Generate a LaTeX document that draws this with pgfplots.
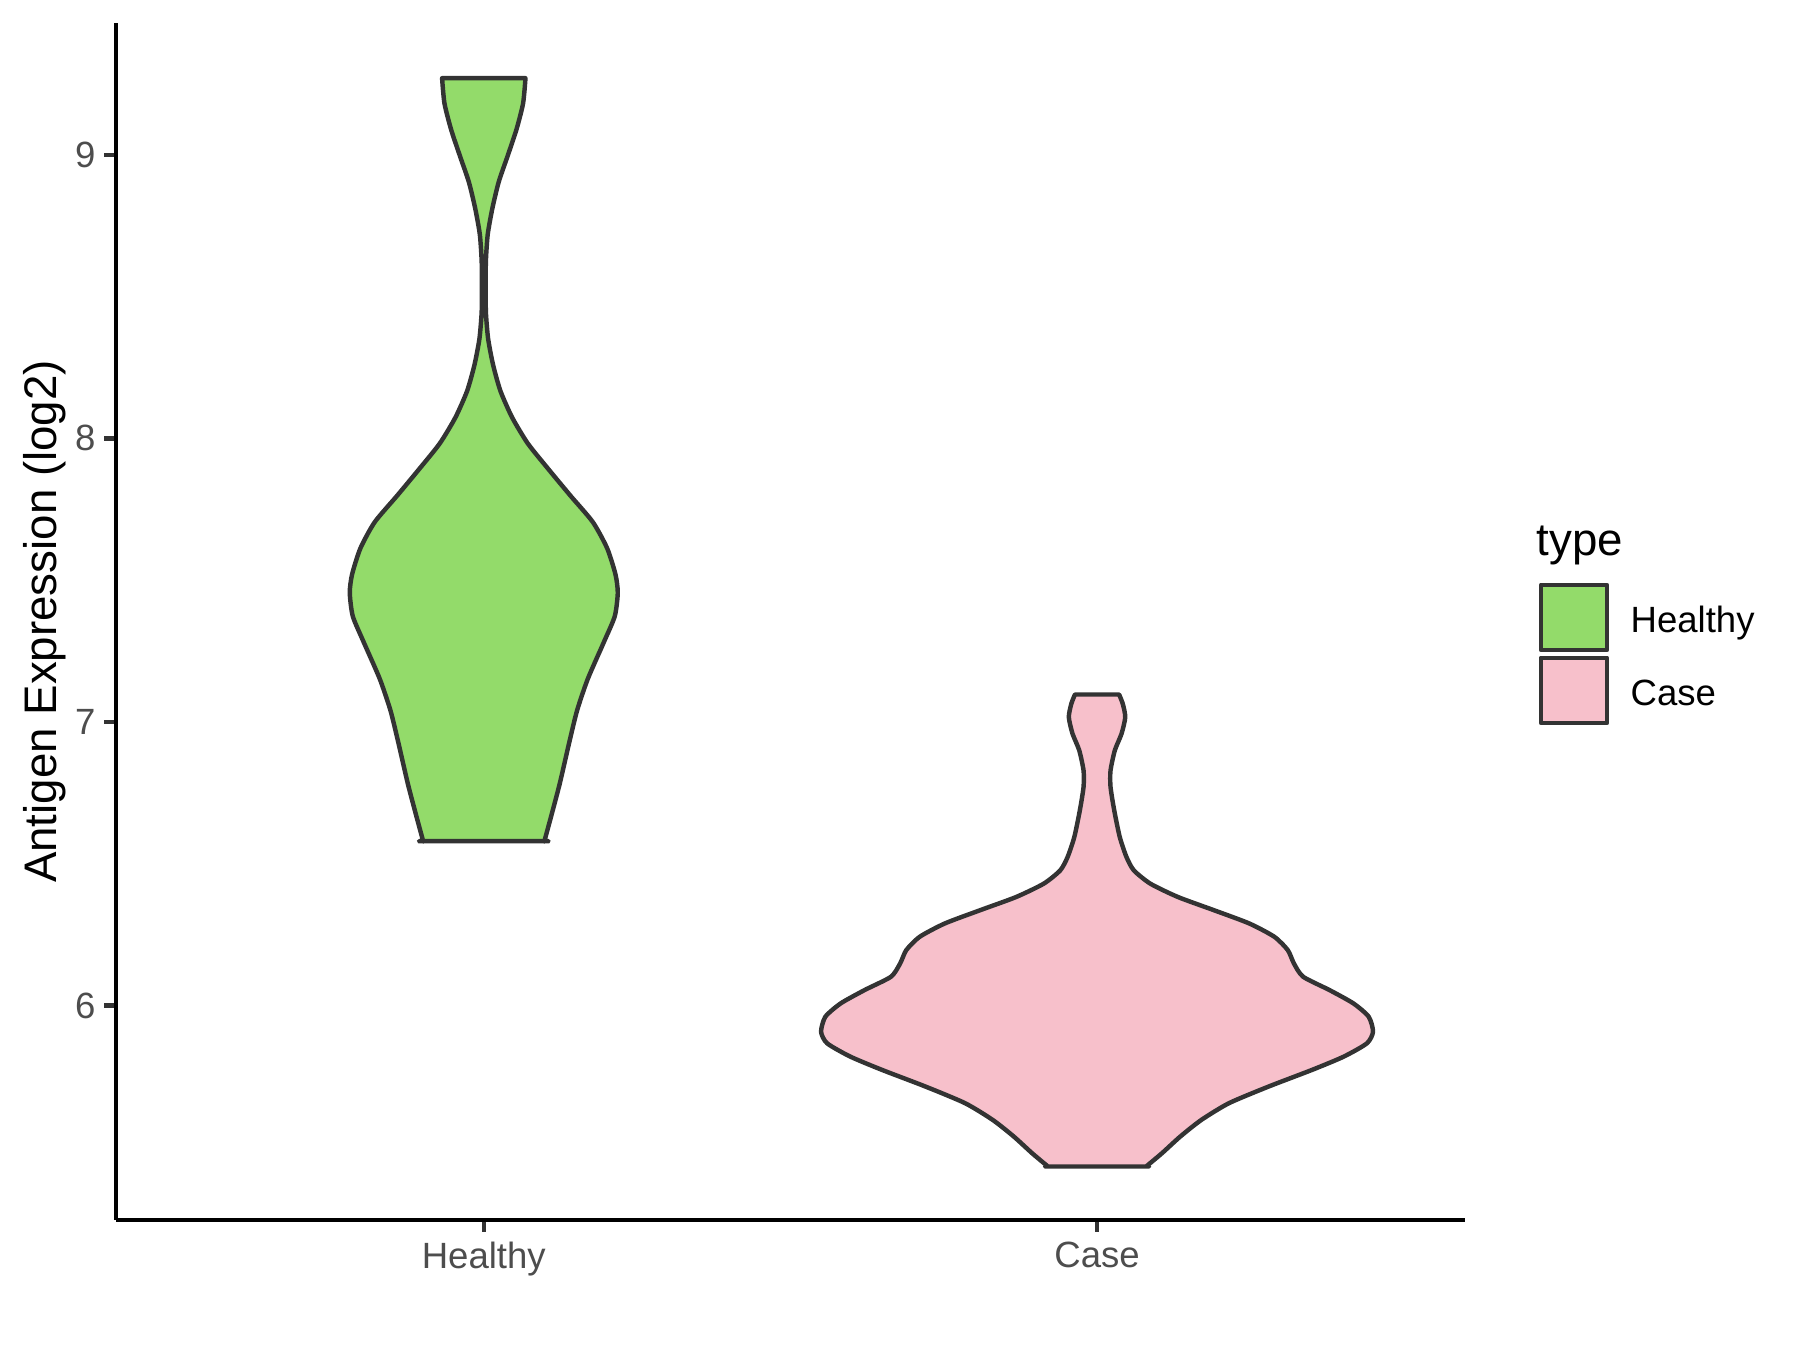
\documentclass[border=0pt]{standalone}
\usepackage{fontspec}
\setmainfont{Liberation Sans}
\usepackage{pgfplots}
\pgfplotsset{compat=1.18}
\definecolor{hfill}{RGB}{147,219,106}
\definecolor{cfill}{RGB}{247,192,203}
\definecolor{vline}{RGB}{51,51,51}
\definecolor{ticklab}{RGB}{77,77,77}
\begin{document}
\begin{tikzpicture}
\path[use as bounding box] (0,0) rectangle (433.6pt,325.2pt);
\begin{axis}[
  at={(27.9pt,31.3pt)}, anchor=south west,
  width=325pt, height=288.4pt, scale only axis,
  xmin=0.4, xmax=2.6, ymin=5.244, ymax=9.465,
  axis lines=left, axis line style={-, line width=1.07pt, black},
  xtick={1,2}, xticklabels={Healthy,Case},
  ytick={6,7,8,9},
  tick align=outside, major tick length=2.75pt,
  tick style={line width=1.07pt, color=vline},
  tick label style={font=\fontsize{8.8}{10}\selectfont, color=ticklab},
  xticklabel style={yshift=1.1pt},
  yticklabel style={xshift=1.4pt},
  /pgf/number format/assume math mode=true,
  ylabel={Antigen Expression (log2)},
  ylabel style={at={(axis description cs:-0.053,0.5)}, anchor=center, font=\fontsize{11}{13}\selectfont},
  legend style={at={(1.054,0.5345)}, anchor=north west, draw=none, fill=none, inner sep=0pt, row sep=0pt,
    font=\fontsize{8.8}{10}\selectfont, nodes={inner sep=0pt, yshift=-0.6pt}},
  legend cell align=left,
  legend image code/.code={\draw[#1] (0pt,-7.25pt) rectangle (15.9pt,8.45pt); \path (21.1pt,-7.65pt) (21.1pt,8.85pt);},
]
\addplot[fill=hfill, draw=vline, line width=1.07pt, line join=round, smooth, tension=0.4] coordinates {
(1.0680,9.270) (1.0641,9.181) (1.0533,9.089) (1.0391,8.997) (1.0245,8.905) (1.0141,8.812) (1.0065,8.720) (1.0035,8.628) (1.0030,8.536) (1.0035,8.443) (1.0071,8.351) (1.0152,8.259) (1.0272,8.167) (1.0462,8.074) (1.0718,7.982) (1.1060,7.890) (1.1413,7.798) (1.1778,7.705) (1.2011,7.613) (1.2147,7.521) (1.2185,7.456) (1.2136,7.373) (1.1957,7.281) (1.1696,7.152) (1.1522,7.041) (1.1397,6.931) (1.1239,6.783) (1.1104,6.672) (1.0995,6.585) (1.0989,6.580) (1.0960,6.580)
(0.9040,6.580) (0.9011,6.580) (0.9005,6.585) (0.8896,6.672) (0.8761,6.783) (0.8603,6.931) (0.8478,7.041) (0.8304,7.152) (0.8043,7.281) (0.7864,7.373) (0.7815,7.456) (0.7853,7.521) (0.7989,7.613) (0.8222,7.705) (0.8587,7.798) (0.8940,7.890) (0.9282,7.982) (0.9538,8.074) (0.9728,8.167) (0.9848,8.259) (0.9929,8.351) (0.9965,8.443) (0.9970,8.536) (0.9965,8.628) (0.9935,8.720) (0.9859,8.812) (0.9755,8.905) (0.9609,8.997) (0.9467,9.089) (0.9359,9.181) (0.9320,9.270)
} -- cycle;
\addlegendentry{Healthy}
\addplot[fill=cfill, draw=vline, line width=1.07pt, line join=round, smooth, tension=0.4] coordinates {
(2.036,7.097) (2.042,7.064) (2.046,7.017) (2.040,6.959) (2.029,6.900) (2.022,6.829) (2.022,6.771) (2.028,6.689) (2.037,6.595) (2.048,6.524) (2.060,6.477) (2.087,6.430) (2.132,6.383) (2.190,6.337) (2.248,6.290) (2.289,6.243) (2.311,6.196) (2.321,6.149) (2.336,6.102) (2.379,6.055) (2.418,6.008) (2.443,5.961) (2.450,5.908) (2.440,5.867) (2.402,5.820) (2.350,5.773) (2.280,5.715) (2.215,5.656) (2.170,5.597) (2.136,5.539) (2.106,5.480) (2.0815,5.4355) (2.080,5.433) (2.077,5.433)
(1.923,5.433) (1.920,5.433) (1.9185,5.4355) (1.894,5.480) (1.864,5.539) (1.830,5.597) (1.785,5.656) (1.720,5.715) (1.650,5.773) (1.598,5.820) (1.560,5.867) (1.550,5.908) (1.557,5.961) (1.582,6.008) (1.621,6.055) (1.664,6.102) (1.679,6.149) (1.689,6.196) (1.711,6.243) (1.752,6.290) (1.810,6.337) (1.868,6.383) (1.913,6.430) (1.940,6.477) (1.952,6.524) (1.963,6.595) (1.972,6.689) (1.978,6.771) (1.978,6.829) (1.971,6.900) (1.960,6.959) (1.954,7.017) (1.958,7.064) (1.964,7.097)
} -- cycle;
\addlegendentry{Case}
\end{axis}
\node[anchor=base west, font=\fontsize{11}{13}\selectfont, inner sep=0pt] at (370pt,191.5pt) {type};
\end{tikzpicture}
\end{document}
